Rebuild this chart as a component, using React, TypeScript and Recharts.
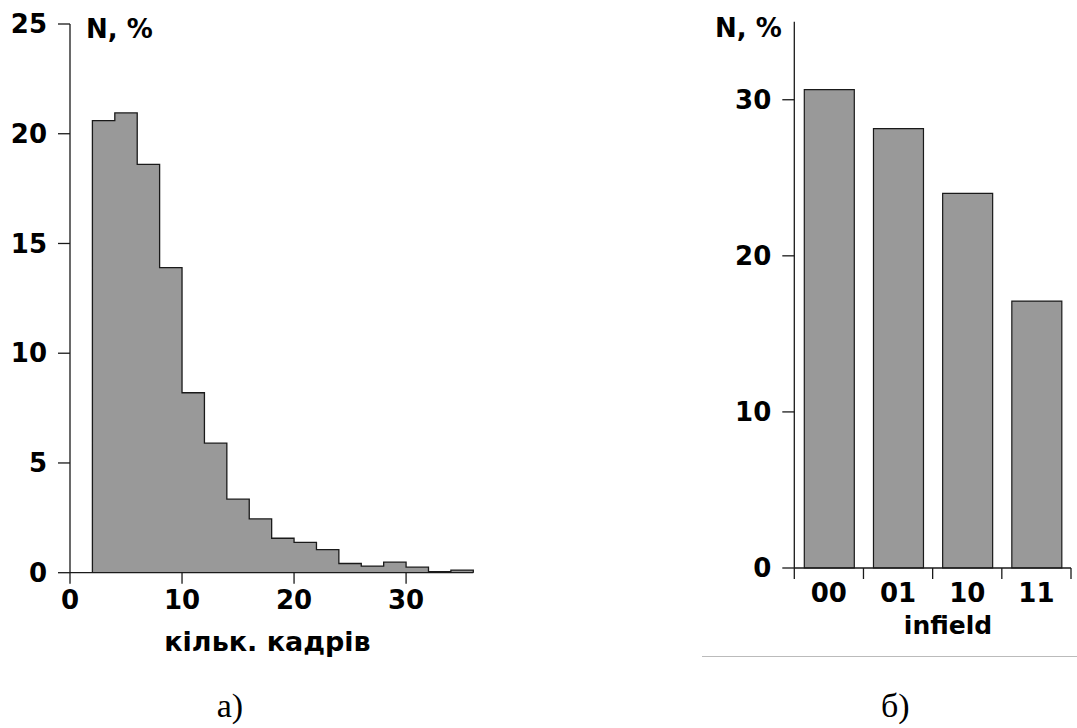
import React from "react";
import {
  Area,
  AreaChart,
  Bar,
  BarChart,
  XAxis,
  YAxis,
} from "recharts";

// histogram a): bin lower edges (width 2) and share of sequences, %
const binStarts = [2, 4, 6, 8, 10, 12, 14, 16, 18, 20, 22, 24, 26, 28, 30, 32, 34];
const binValues = [20.6, 20.95, 18.6, 13.9, 8.2, 5.9, 3.35, 2.45, 1.57, 1.38, 1.05, 0.42, 0.3, 0.48, 0.25, 0.05, 0.12];
const binWidth = 2;
const histXTicks = [0, 10, 20, 30];
const histYTicks = [0, 5, 10, 15, 20, 25];

// bar chart б)
const infield = ["00", "01", "10", "11"];
const infieldValues = [30.65, 28.15, 24.0, 17.1];
const barYTicks = [0, 10, 20, 30];

const FONT = "DejaVu Sans, Verdana, sans-serif";
const INK = "#1a1a1a";
const FILL = "#999999";

const tickStyle = { fontSize: 26, fontWeight: "bold", fill: "#000", fontFamily: FONT };

// step outline: start at 0 on the left edge, close at 0 on the right edge
const lastEdge = binStarts[binStarts.length - 1] + binWidth;
const histData = [
  { x: binStarts[0], v: 0 },
  ...binStarts.map((b, i) => ({ x: b, v: binValues[i] })),
  { x: lastEdge, v: binValues[binValues.length - 1] },
  { x: lastEdge, v: 0 },
];

const barData = infield.map((c, i) => ({ c, v: infieldValues[i] }));

// right chart geometry (needed for the boundary ticks)
const R_W = 387;
const R_H = 680;
const R_MARGIN = { top: 21.7, right: 6, bottom: 72, left: 44.3 };
const R_YAXIS_W = 60;
const R_XAXIS_H = 40;
const R_AXIS_Y = R_H - R_MARGIN.bottom - R_XAXIS_H;
const BAND = (R_W - R_MARGIN.left - R_MARGIN.right - R_YAXIS_W) / infield.length;

function BandTick(props: any) {
  const { x, payload, index } = props;
  const half = BAND / 2;
  return (
    <g>
      <line x1={x - half} x2={x - half} y1={R_AXIS_Y} y2={R_AXIS_Y + 11} stroke={INK} strokeWidth={1.3} />
      {index === infield.length - 1 && (
        <line x1={x + half} x2={x + half} y1={R_AXIS_Y} y2={R_AXIS_Y + 11} stroke={INK} strokeWidth={1.3} />
      )}
      <text x={x} y={602} textAnchor="middle" {...tickStyle}>
        {payload.value}
      </text>
    </g>
  );
}

export default function App() {
  return (
    <div style={{ position: "absolute", left: 0, top: 0, width: 1077, height: 728, background: "#fff" }}>
      <div style={{ position: "absolute", left: 0, top: 0 }}>
        <AreaChart
          width={500}
          height={680}
          data={histData}
          margin={{ top: 24, right: 26.7, bottom: 67.3, left: 10 }}
        >
          <XAxis
            type="number"
            dataKey="x"
            domain={[0, 36]}
            ticks={histXTicks}
            interval={0}
            height={40}
            tickSize={11}
            tickMargin={7}
            tick={tickStyle}
            stroke={INK}
            axisLine={{ stroke: INK, strokeWidth: 1.3 }}
            tickLine={{ stroke: INK, strokeWidth: 1.3 }}
          />
          <YAxis
            domain={[0, 25]}
            ticks={histYTicks}
            interval={0}
            width={60}
            tickSize={12}
            tickMargin={11}
            tick={tickStyle}
            axisLine={{ stroke: INK, strokeWidth: 1.3 }}
            tickLine={{ stroke: INK, strokeWidth: 1.3 }}
          />
          <Area
            type="stepAfter"
            dataKey="v"
            stroke={INK}
            strokeWidth={1.3}
            fill={FILL}
            fillOpacity={1}
            dot={false}
            activeDot={false}
            isAnimationActive={false}
          />
        </AreaChart>
      </div>

      <div style={{ position: "absolute", left: 690, top: 0 }}>
        <BarChart width={R_W} height={R_H} data={barData} margin={R_MARGIN}>
          <XAxis
            dataKey="c"
            height={R_XAXIS_H}
            tickLine={false}
            tick={<BandTick />}
            interval={0}
            axisLine={{ stroke: INK, strokeWidth: 1.3 }}
          />
          <YAxis
            domain={[0, 35]}
            ticks={barYTicks}
            interval={0}
            width={R_YAXIS_W}
            tickSize={12}
            tickMargin={11}
            tick={tickStyle}
            axisLine={{ stroke: INK, strokeWidth: 1.3 }}
            tickLine={{ stroke: INK, strokeWidth: 1.3 }}
          />
          <Bar dataKey="v" fill={FILL} stroke={INK} strokeWidth={1.2} barSize={50} isAnimationActive={false} />
        </BarChart>
      </div>

      <svg
        width={1077}
        height={728}
        style={{ position: "absolute", left: 0, top: 0, pointerEvents: "none" }}
      >
        <text x={86} y={38} fontFamily={FONT} fontWeight="bold" fontSize={26}>
          N, %
        </text>
        <text x={715} y={37} fontFamily={FONT} fontWeight="bold" fontSize={26}>
          N, %
        </text>
        <text x={267.5} y={651} textAnchor="middle" fontFamily={FONT} fontWeight="bold" fontSize={27}>
          кільк. кадрів
        </text>
        <text x={948} y={634} textAnchor="middle" fontFamily={FONT} fontWeight="bold" fontSize={25}>
          infield
        </text>
        <line x1={702} x2={1077} y1={656.5} y2={656.5} stroke="#bbbbbb" strokeWidth={1} />
        <text x={230} y={717} textAnchor="middle" fontFamily="Liberation Serif, serif" fontSize={34}>
          а)
        </text>
        <text x={895.3} y={717} textAnchor="middle" fontFamily="Liberation Serif, serif" fontSize={34}>
          б)
        </text>
      </svg>
    </div>
  );
}
